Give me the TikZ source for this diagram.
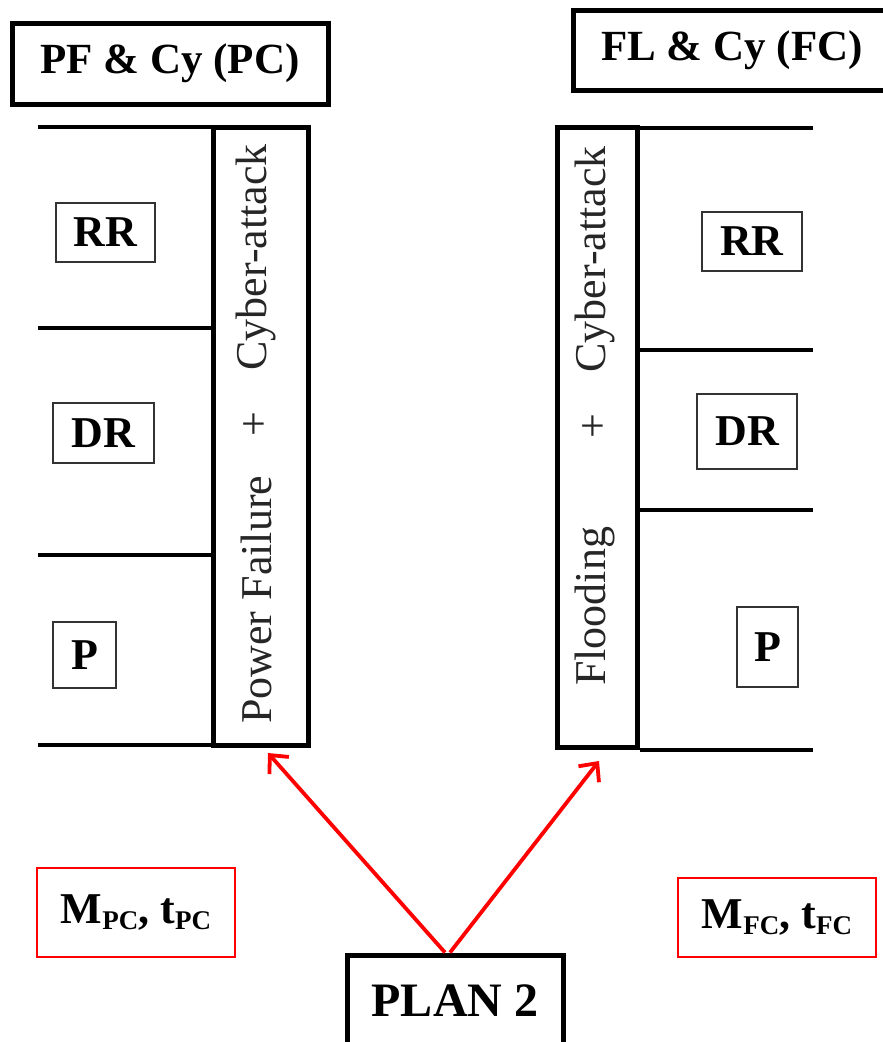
\documentclass[tikz,border=0pt]{standalone}
\usepackage{fontspec}
\setmainfont{Liberation Serif}
\usetikzlibrary{arrows.meta}
\newcommand{\mysub}[1]{\raisebox{-0.28ex}{\fontsize{27}{27}\selectfont #1}}
\tikzset{
  heavy/.style={draw=black, line width=5pt},
  titlebox/.style={heavy, inner sep=0pt, font=\bfseries\fontsize{43}{48}\selectfont},
  tallbox/.style={heavy, inner sep=0pt},
  smallbox/.style={draw=black!80, line width=1.6pt, inner sep=0pt, font=\bfseries\fontsize{44}{48}\selectfont},
  redbox/.style={draw=red, line width=2.2pt, inner sep=0pt, font=\bfseries\fontsize{44}{48}\selectfont},
  vtext/.style={rotate=90, inner sep=0pt, text=black!85, font=\fontsize{44}{48}\selectfont},
  redarrow/.style={draw=red, line width=3.8pt, -{Straight Barb[length=14pt,width=26pt,line width=3.8pt]}},
  sep/.style={draw=black, line width=4.5pt},
}
\begin{document}
\begin{tikzpicture}[x=1pt,y=-1pt]
\useasboundingbox (0,0) rectangle (883,1042);
% titles
\node[titlebox, minimum width=316pt, minimum height=81pt] (tl) at (170,63.5) {PF \& Cy (PC)};
\node[titlebox, minimum width=318pt, minimum height=80pt] (tr) at (732,50) {FL \& Cy (FC)};
% left tall box
\node[tallbox, minimum width=95pt, minimum height=618pt] (lbox) at (260.5,436) {};
\node[vtext, anchor=east] (lcyber) at (256,144) {Cyber-attack};
\node[vtext] (lplus) at (256,424) {+};
\node[vtext, anchor=west] (lpower) at (256,724) {Power Failure};
% left separators
\coordinate (l0) at (38,127);
\coordinate (l1) at (38,328);
\coordinate (l2) at (38,555);
\coordinate (l3) at (38,745);
\draw[sep] (l0) -- (l0 -| lbox.west);
\draw[sep] (l1) -- (l1 -| lbox.west);
\draw[sep] (l2) -- (l2 -| lbox.west);
\draw[sep] (l3) -- (l3 -| lbox.west);
% left small boxes
\node[smallbox, minimum width=99pt, minimum height=59pt] (lrr) at (105.5,232.5) {RR};
\node[smallbox, minimum width=101pt, minimum height=60pt] (ldr) at (103.5,433) {DR};
\node[smallbox, minimum width=63pt, minimum height=66pt] (lp) at (84.5,655) {P};
% right tall box
\node[tallbox, minimum width=80pt, minimum height=620pt] (rbox) at (597,437) {};
\node[vtext, anchor=east] (rcyber) at (595,146) {Cyber-attack};
\node[vtext] (rplus) at (595,426) {+};
\node[vtext, anchor=west] (rflood) at (595,686) {Flooding};
% right separators
\coordinate (r0) at (813,128);
\coordinate (r1) at (813,350);
\coordinate (r2) at (813,510);
\coordinate (r3) at (813,750);
\draw[sep] (r0 -| rbox.east) -- (r0);
\draw[sep] (r1 -| rbox.east) -- (r1);
\draw[sep] (r2 -| rbox.east) -- (r2);
\draw[sep] (r3 -| rbox.east) -- (r3);
% right small boxes
\node[smallbox, minimum width=100pt, minimum height=59pt] (rrr) at (752,241.5) {RR};
\node[smallbox, minimum width=100pt, minimum height=75pt] (rdr) at (747,431.5) {DR};
\node[smallbox, minimum width=61pt, minimum height=80pt] (rp) at (767.5,647) {P};
% red boxes
\node[redbox, minimum width=198pt, minimum height=89pt] (mpc) at (136,912.5) {M\mysub{PC}, t\mysub{PC}};
\node[redbox, minimum width=198pt, minimum height=79pt] (mfc) at (777,917.5) {M\mysub{FC}, t\mysub{FC}};
% plan 2
\node[titlebox, minimum width=216pt, minimum height=92pt, font=\bfseries\fontsize{48}{52}\selectfont] (plan) at (455,1001) {PLAN 2};
% arrows
\coordinate (lt) at (268,753);
\coordinate (rt) at (599,761);
\draw[redarrow] ([xshift=-10pt]plan.north) -- (lt);
\draw[redarrow] ([xshift=-5pt]plan.north) -- (rt);
\end{tikzpicture}
\end{document}
